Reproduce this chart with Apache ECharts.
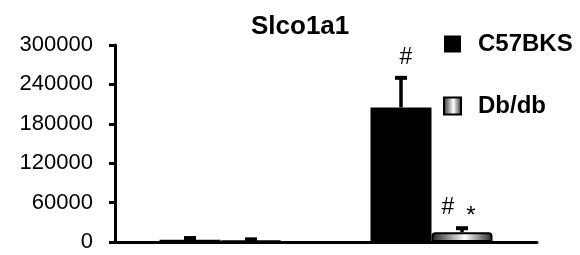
<!DOCTYPE html>
<html>
<head>
<meta charset="utf-8">
<script src="https://cdn.jsdelivr.net/npm/echarts@6/dist/echarts.min.js"></script>
<style>
  html, body { margin: 0; padding: 0; background: #fff; }
  #main { width: 580px; height: 255px; }
</style>
</head>
<body>
<div id="main"></div>
<script>
var categories = ['Group 1', 'Group 2'];
var c57Mean = [3500, 205000];
var c57Err = [2500, 45000];
var dbMean = [2500, 15000];
var dbErr = [1500, 6000];
var c57Marks = ['', '#'];
var dbMarks = ['', '#*'];
var yTicks = [0, 60000, 120000, 180000, 240000, 300000];

var FONT = 'Liberation Sans';
var BAR_W = 61;

function markText(x, y, t, size) {
    return {
        type: 'text', x: x, y: y,
        style: { text: t, fill: '#000', fontFamily: FONT, fontSize: size, align: 'center', verticalAlign: 'middle' }
    };
}

function errorSeries(means, errs, marks, side) {
    return {
        type: 'custom',
        z: 5,
        data: categories.map(function (c, i) { return [i, means[i], errs[i]]; }),
        renderItem: function (params, api) {
            var i = api.value(0), mean = api.value(1), err = api.value(2);
            var base = api.coord([i, mean]);
            var top = api.coord([i, mean + err]);
            var x = base[0] + side * BAR_W / 2;
            var kids = [
                { type: 'line', shape: { x1: x, y1: base[1], x2: x, y2: top[1] },
                  style: { stroke: '#000', lineWidth: 3.5 } },
                { type: 'rect', shape: { x: x - 6, y: top[1] - 2, width: 12, height: 4 },
                  style: { fill: '#000' } }
            ];
            var m = marks[params.dataIndex];
            if (m == '#') {
                kids.push(markText(x + 5, top[1] - 20, '#', 23));
            } else if (m == '#*') {
                kids.push(markText(x - 14, top[1] - 21, '#', 23));
                kids.push(markText(x + 9, top[1] - 12, '*', 24));
            }
            return { type: 'group', children: kids };
        }
    };
}

var myChart = echarts.init(document.getElementById('main'), null, { renderer: 'canvas' });
var option = {
    backgroundColor: '#fff',
    animation: false,
    title: {
        text: 'Slco1a1',
        left: 246,
        top: 9,
        textStyle: { fontFamily: FONT, fontSize: 26, fontWeight: 'bold', color: '#000' }
    },
    legend: {
        orient: 'vertical',
        left: 438,
        top: 27,
        icon: 'rect',
        itemWidth: 17,
        itemHeight: 17,
        itemGap: 38,
        data: ['C57BKS', 'Db/db'],
        textStyle: { fontFamily: FONT, fontSize: 24, fontWeight: 'bold', color: '#000', padding: [0, 0, 0, 12] }
    },
    grid: { left: 115, right: 43, top: 45, bottom: 13 },
    xAxis: {
        type: 'category',
        data: categories,
        axisLine: { lineStyle: { color: '#000', width: 3 } },
        axisTick: { show: false },
        axisLabel: { show: false }
    },
    yAxis: {
        type: 'value',
        min: yTicks[0],
        max: yTicks[yTicks.length - 1],
        interval: yTicks[1] - yTicks[0],
        axisLine: { show: true, lineStyle: { color: '#000', width: 3 } },
        axisTick: { show: true, length: 6, lineStyle: { color: '#000', width: 3 } },
        splitLine: { show: false },
        axisLabel: {
            fontFamily: FONT, fontSize: 22, color: '#000', margin: 22,
            formatter: function (v) { return String(v); }
        }
    },
    series: [
        {
            name: 'C57BKS',
            type: 'bar',
            barWidth: BAR_W,
            barGap: 0,
            data: c57Mean,
            itemStyle: { color: '#000' }
        },
        {
            name: 'Db/db',
            type: 'bar',
            barWidth: BAR_W,
            data: dbMean,
            itemStyle: {
                color: new echarts.graphic.LinearGradient(0, 0, 1, 0, [
                    { offset: 0, color: '#222' },
                    { offset: 0.55, color: '#fff' },
                    { offset: 1, color: '#222' }
                ]),
                borderColor: '#000',
                borderWidth: 2,
                borderRadius: [3, 3, 0, 0]
            }
        },
        errorSeries(c57Mean, c57Err, c57Marks, -1),
        errorSeries(dbMean, dbErr, dbMarks, 1)
    ]
};
myChart.setOption(option);
</script>
</body>
</html>
